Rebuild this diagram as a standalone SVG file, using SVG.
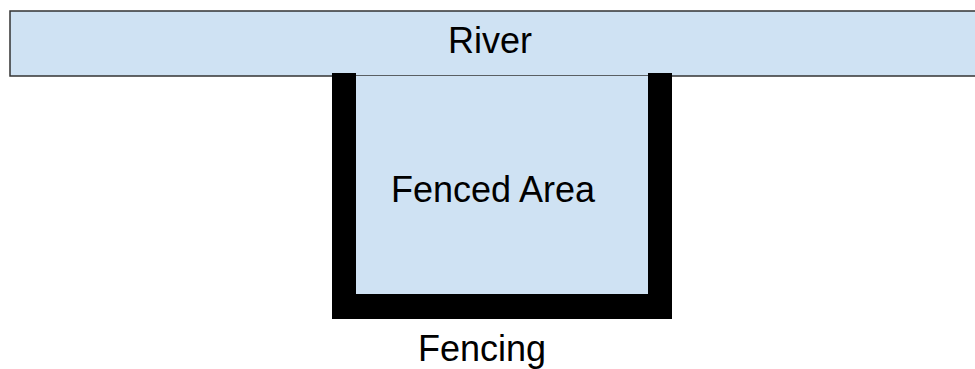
<svg xmlns="http://www.w3.org/2000/svg" width="975" height="369" viewBox="0 0 975 369">
<style>
.lbl{font-family:"Liberation Sans",Arial,sans-serif;font-size:36px;fill:#000;text-anchor:middle}
.water{fill:#cfe2f3}
.fence{fill:#000}
</style>
<rect width="975" height="369" fill="#fff"/>
<g id="river">
<rect class="water" x="10" y="11" width="970" height="65" stroke="#333" stroke-width="1.5"/>
<text class="lbl" x="490" y="53">River</text>
</g>
<g id="fenced-area">
<rect class="water" x="355" y="76" width="294" height="219"/>
<text class="lbl" x="493" y="202">Fenced Area</text>
</g>
<g id="fencing">
<rect class="fence" x="332" y="73" width="24" height="246"/>
<rect class="fence" x="648" y="73" width="24" height="246"/>
<rect class="fence" x="332" y="294" width="340" height="25"/>
<text class="lbl" x="482" y="361">Fencing</text>
</g>
</svg>
